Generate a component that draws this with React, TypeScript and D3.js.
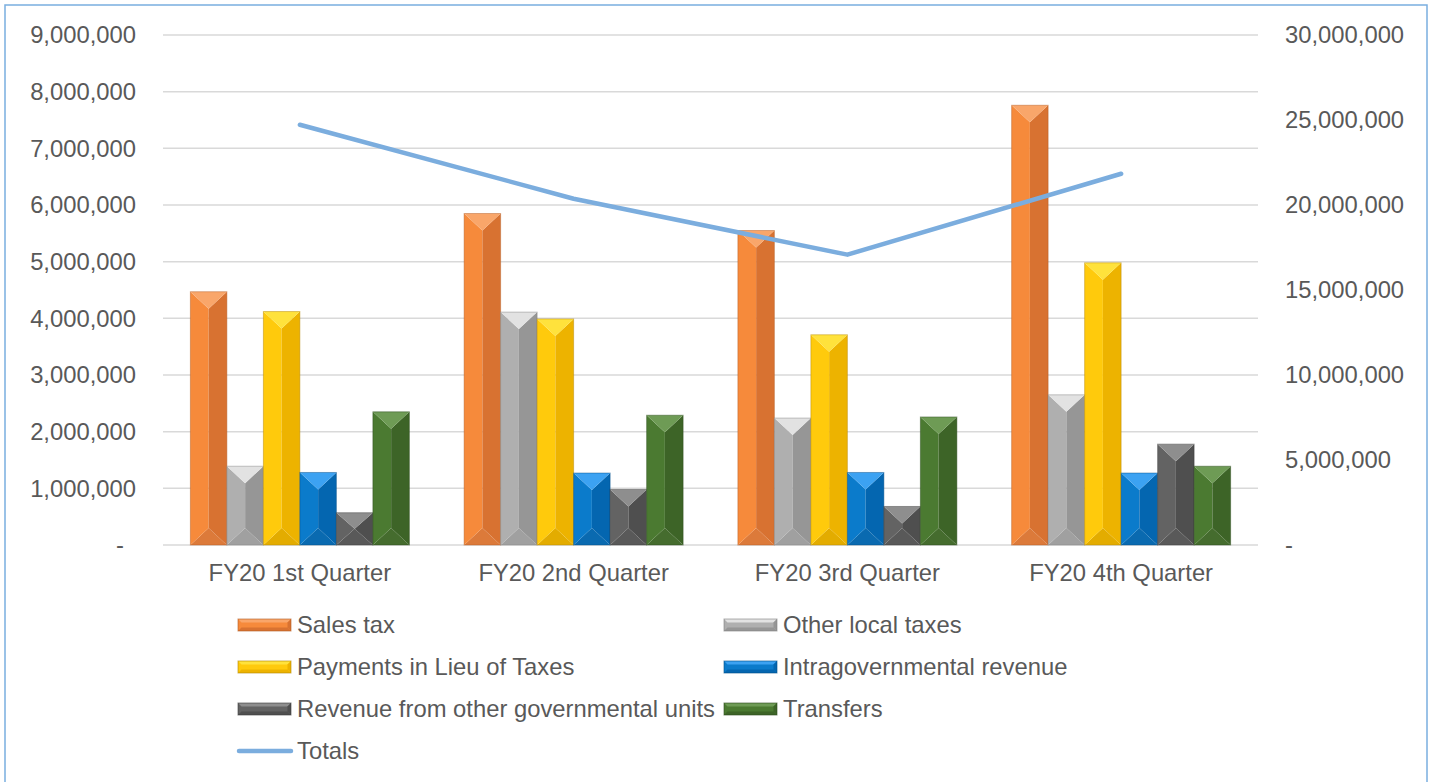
import { useRef, useEffect } from 'react'
import * as d3 from 'd3'

// quarters along the x axis
const quarters = ['FY20 1st Quarter', 'FY20 2nd Quarter', 'FY20 3rd Quarter', 'FY20 4th Quarter']

// bar series (left axis)
const seriesNames = [
  'Sales tax',
  'Other local taxes',
  'Payments in Lieu of Taxes',
  'Intragovernmental revenue',
  'Revenue from other governmental units',
  'Transfers',
]
const salesTax = [4470000, 5850000, 5550000, 7760000]
const otherLocalTaxes = [1390000, 4110000, 2240000, 2650000]
const pilot = [4120000, 3990000, 3710000, 4980000]
const intragov = [1280000, 1270000, 1280000, 1270000]
const otherGovUnits = [570000, 980000, 680000, 1780000]
const transfers = [2350000, 2290000, 2260000, 1390000]

// line series (right axis)
const totals = [24720000, 20370000, 17080000, 21840000]

const leftTicks = [0, 1000000, 2000000, 3000000, 4000000, 5000000, 6000000, 7000000, 8000000, 9000000]
const rightTicks = [0, 5000000, 10000000, 15000000, 20000000, 25000000, 30000000]

// face colours for the bevelled bars: top, left, right, bottom, edge
const palette = [
  ['#F9A66A', '#F68A3B', '#D87231', '#DC7A3A', '#B35A22'],
  ['#E2E2E2', '#AFAFAF', '#969696', '#A0A0A0', '#808080'],
  ['#FFE23C', '#FFCA0C', '#EDB300', '#E3AC00', '#B38600'],
  ['#3CA2F2', '#0B7BCB', '#0466B0', '#0A6AB0', '#004C85'],
  ['#8E8E8E', '#636363', '#4F4F4F', '#595959', '#3A3A3A'],
  ['#6E9B55', '#4B7A31', '#3D6427', '#456C2E', '#2B4A1A'],
]
const lineColor = '#7BADDE'
const textColor = '#595959'
const font = '"Liberation Sans", Arial, sans-serif'

const App = () => {
  const chartRef = useRef(null)

  useEffect(() => {
    const svg = d3.select(chartRef.current)
    svg.selectAll('*').remove()

    const top = 35
    const bottom = 545
    const left = 163
    const right = 1258
    const fs = 23.8

    const values = [salesTax, otherLocalTaxes, pilot, intragov, otherGovUnits, transfers]

    const x0 = d3.scaleBand().domain(quarters).range([left, right]).padding(0)
    const x1 = d3.scaleBand()
      .domain(seriesNames)
      .range([0, x0.bandwidth()])
      .paddingInner(0)
      .paddingOuter(0.75)
    const yL = d3.scaleLinear().domain([0, 9000000]).range([bottom, top])
    const yR = d3.scaleLinear().domain([0, 30000000]).range([bottom, top])

    // outer border
    svg.append('rect')
      .attr('x', 5).attr('y', 5).attr('width', 1422).attr('height', 800)
      .attr('fill', 'white').attr('stroke', '#7AAEDF').attr('stroke-width', 1.5)

    // gridlines
    svg.append('g').selectAll('line').data(leftTicks).join('line')
      .attr('x1', left).attr('x2', right)
      .attr('y1', d => yL(d)).attr('y2', d => yL(d))
      .attr('stroke', '#D9D9D9').attr('stroke-width', 1.5)

    const fmt = d3.format(',')

    // left axis labels
    svg.append('g').selectAll('text').data(leftTicks).join('text')
      .attr('x', d => d === 0 ? 124 : 136)
      .attr('y', d => yL(d))
      .attr('dy', '0.35em')
      .attr('text-anchor', 'end')
      .attr('font-family', font).attr('font-size', fs).attr('fill', textColor)
      .text(d => d === 0 ? '-' : fmt(d))

    // right axis labels
    svg.append('g').selectAll('text').data(rightTicks).join('text')
      .attr('x', 1285)
      .attr('y', d => yR(d))
      .attr('dy', '0.35em')
      .attr('font-family', font).attr('font-size', fs).attr('fill', textColor)
      .text(d => d === 0 ? '-' : fmt(d))

    // x labels
    svg.append('g').selectAll('text').data(quarters).join('text')
      .attr('x', d => x0(d) + x0.bandwidth() / 2)
      .attr('y', 581)
      .attr('text-anchor', 'middle')
      .attr('font-family', font).attr('font-size', fs).attr('fill', textColor)
      .text(d => d)

    // bevelled bars
    const bars = svg.append('g')
    const w = x1.bandwidth()
    seriesNames.forEach((name, si) => {
      const c = palette[si]
      quarters.forEach((q, qi) => {
        const x = x0(q) + x1(name)
        const y = yL(values[si][qi])
        const h = bottom - y
        const b = Math.min(17, h / 2)
        const m = x + w / 2
        const g = bars.append('g')
        const poly = (pts, fill) => g.append('polygon')
          .attr('points', pts.map(p => p.join(',')).join(' '))
          .attr('fill', fill)
        poly([[x, y + h], [x + w, y + h], [m, y + h - b]], c[3])
        poly([[x, y], [m, y + b], [m, y + h - b], [x, y + h]], c[1])
        poly([[x + w, y], [m, y + b], [m, y + h - b], [x + w, y + h]], c[2])
        poly([[x, y], [x + w, y], [m, y + b]], c[0])
        g.append('rect')
          .attr('x', x).attr('y', y).attr('width', w).attr('height', h)
          .attr('fill', 'none').attr('stroke', c[4]).attr('stroke-opacity', 0.45).attr('stroke-width', 1)
      })
    })

    // totals line
    const line = d3.line()
      .x((d, i) => x0(quarters[i]) + x0.bandwidth() / 2)
      .y(d => yR(d))
    svg.append('path')
      .datum(totals)
      .attr('d', line)
      .attr('fill', 'none')
      .attr('stroke', lineColor)
      .attr('stroke-width', 4.5)
      .attr('stroke-linecap', 'round')
      .attr('stroke-linejoin', 'round')

    // legend
    const legendItems = [...seriesNames, 'Totals']
    const legend = svg.append('g')
    legendItems.forEach((name, i) => {
      const col = i % 2
      const row = Math.floor(i / 2)
      const ix = col === 0 ? 238 : 724
      const cy = 625 + row * 42
      const lg = legend.append('g')
      if (name === 'Totals') {
        lg.append('line')
          .attr('x1', ix + 1).attr('x2', ix + 53)
          .attr('y1', cy).attr('y2', cy)
          .attr('stroke', lineColor).attr('stroke-width', 4.5).attr('stroke-linecap', 'round')
      } else {
        const c = palette[i]
        const lw = 53
        const lh = 12
        const ly = cy - lh / 2
        const bb = 3.5
        const poly = (pts, fill) => lg.append('polygon')
          .attr('points', pts.map(p => p.join(',')).join(' '))
          .attr('fill', fill)
        poly([[ix, ly], [ix + lw, ly], [ix + lw, ly + lh], [ix, ly + lh]], c[1])
        poly([[ix, ly], [ix + lw, ly], [ix + lw - bb, ly + bb], [ix + bb, ly + bb]], c[0])
        poly([[ix, ly + lh], [ix + lw, ly + lh], [ix + lw - bb, ly + lh - bb], [ix + bb, ly + lh - bb]], c[2])
        poly([[ix + lw, ly], [ix + lw, ly + lh], [ix + lw - bb, ly + lh - bb], [ix + lw - bb, ly + bb]], c[2])
        lg.append('rect')
          .attr('x', ix).attr('y', ly).attr('width', lw).attr('height', lh)
          .attr('fill', 'none').attr('stroke', c[4]).attr('stroke-opacity', 0.6).attr('stroke-width', 1)
      }
      lg.append('text')
        .attr('x', ix + 59)
        .attr('y', cy)
        .attr('dy', '0.35em')
        .attr('font-family', font).attr('font-size', fs).attr('fill', textColor)
        .text(name)
    })
  })

  return (
    <svg
      ref={chartRef}
      width={1433}
      height={782}
      style={{ position: 'absolute', left: 0, top: 0, display: 'block' }}
    />
  )
}

export default App
